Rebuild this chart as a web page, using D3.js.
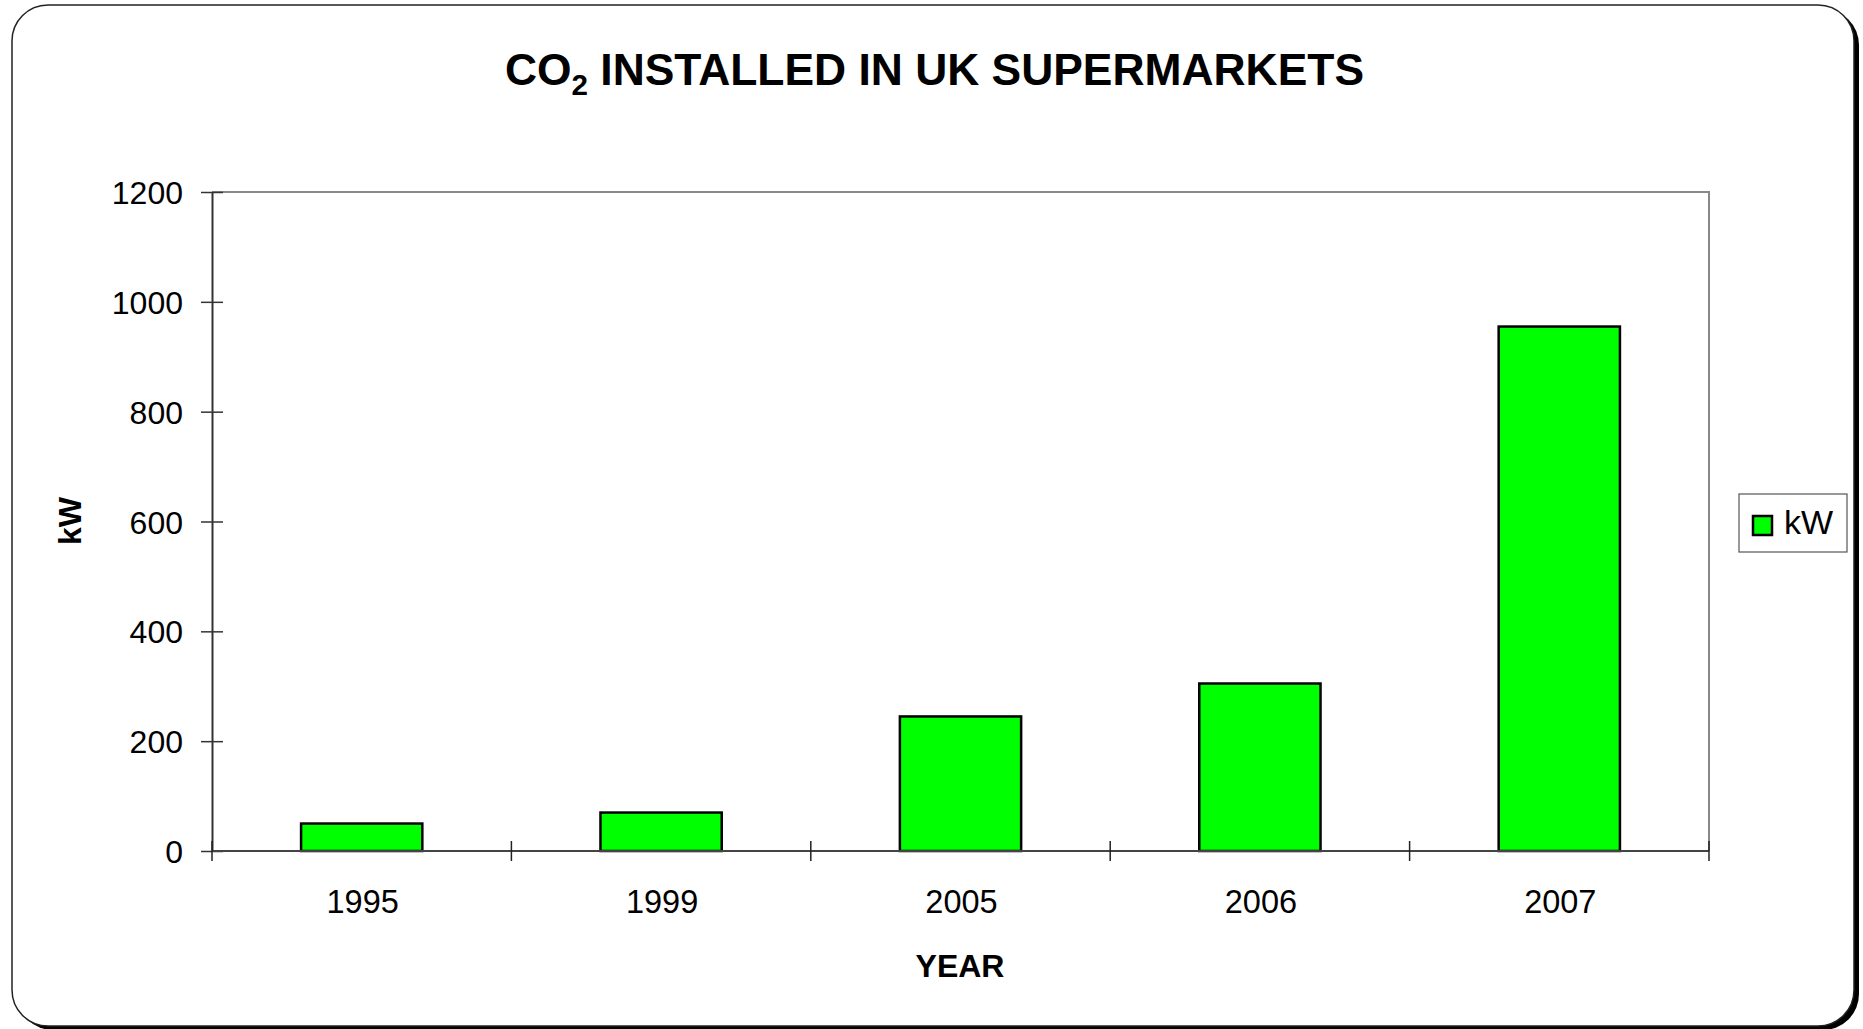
<!DOCTYPE html>
<html>
<head>
<meta charset="utf-8">
<script src="https://cdn.jsdelivr.net/npm/d3@7"></script>
<style>
  html, body { margin: 0; padding: 0; background: #fff; }
  svg { display: block; font-family: "Liberation Sans", Arial, sans-serif; }
</style>
</head>
<body>
<svg id="chart" width="1863" height="1029"></svg>
<script>
const years = ["1995", "1999", "2005", "2006", "2007"];
const kW = [50, 70, 245, 305, 955];
const yTicks = [0, 200, 400, 600, 800, 1000, 1200];
const titleMain = "CO";
const titleSub = "2";
const titleRest = " INSTALLED IN UK SUPERMARKETS";
const xTitle = "YEAR";
const yTitle = "kW";
const seriesName = "kW";

const svg = d3.select("#chart");

// outer frame with shadow
svg.append("rect").attr("x", 17).attr("y", 9).attr("width", 1842).attr("height", 1021)
  .attr("rx", 36).attr("fill", "#000");
svg.append("rect").attr("x", 12).attr("y", 5).attr("width", 1842).attr("height", 1021)
  .attr("rx", 36).attr("fill", "#fff").attr("stroke", "#222").attr("stroke-width", 1.5);

const L = 212, R = 1709, T = 192, B = 851;

const x = d3.scaleBand().domain(years).range([L, R]).padding(0);
const y = d3.scaleLinear().domain([0, 1200]).range([B, T]);

// plot border (top & right gray)
svg.append("path")
  .attr("d", `M${L},${T}H${R}V${B}`)
  .attr("fill", "none").attr("stroke", "#888").attr("stroke-width", 2);

// bars
const bw = x.bandwidth() * 0.405;
svg.append("g").selectAll("rect").data(years).join("rect")
  .attr("x", d => x(d) + (x.bandwidth() - bw) / 2)
  .attr("y", (d, i) => y(kW[i]))
  .attr("width", bw)
  .attr("height", (d, i) => B - y(kW[i]))
  .attr("fill", "#00ff00")
  .attr("stroke", "#000").attr("stroke-width", 2.5);

// y axis
const yAxis = d3.axisLeft(y).tickValues(yTicks).tickFormat(d3.format("d")).tickSize(0).tickPadding(0);
const gy = svg.append("g").attr("transform", `translate(${L},0)`).call(yAxis);
gy.select(".domain").attr("stroke", "#333").attr("stroke-width", 2);
gy.selectAll(".tick text").attr("x", -29).attr("dy", "0.36em")
  .attr("font-size", 32).attr("fill", "#000").attr("font-family", "Liberation Sans, Arial, sans-serif");
gy.selectAll(".tick").append("line").attr("x1", -11).attr("x2", 11)
  .attr("stroke", "#333").attr("stroke-width", 1.5);

// x axis
const gx = svg.append("g").attr("transform", `translate(0,${B})`);
gx.append("line").attr("x1", L).attr("x2", R).attr("stroke", "#444").attr("stroke-width", 2);
const boundaries = years.map(d => x(d)).concat([R]);
gx.selectAll("line.tk").data(boundaries).join("line").attr("class", "tk")
  .attr("x1", d => d).attr("x2", d => d).attr("y1", -10).attr("y2", 10)
  .attr("stroke", "#222").attr("stroke-width", 1.5);
gx.selectAll("text").data(years).join("text")
  .attr("x", d => x(d) + x.bandwidth() / 2 + 1)
  .attr("y", 62)
  .attr("text-anchor", "middle").attr("font-size", 32.5).attr("fill", "#000")
  .text(d => d);

// title
const title = svg.append("text").attr("x", 505).attr("y", 85)
  .attr("font-size", 45).attr("font-weight", "bold").attr("fill", "#000")
  .attr("textLength", 859).attr("lengthAdjust", "spacingAndGlyphs");
title.append("tspan").text(titleMain);
title.append("tspan").attr("font-size", 30).attr("dy", 10).text(titleSub);
title.append("tspan").attr("dy", -10).text(titleRest);

// axis titles
svg.append("text").attr("x", 960).attr("y", 977).attr("text-anchor", "middle")
  .attr("font-size", 32).attr("font-weight", "bold").text(xTitle);
svg.append("text").attr("transform", "translate(81,521) rotate(-90)")
  .attr("text-anchor", "middle").attr("font-size", 32).attr("font-weight", "bold").text(yTitle);

// legend
const lg = svg.append("g");
lg.append("rect").attr("x", 1739).attr("y", 494).attr("width", 108).attr("height", 58)
  .attr("fill", "#fff").attr("stroke", "#555").attr("stroke-width", 1.2);
lg.append("rect").attr("x", 1753).attr("y", 516).attr("width", 19).attr("height", 19)
  .attr("fill", "#00ff00").attr("stroke", "#000").attr("stroke-width", 2.5);
lg.append("text").attr("x", 1784).attr("y", 534).attr("font-size", 34).attr("fill", "#000").text(seriesName);
</script>
</body>
</html>
